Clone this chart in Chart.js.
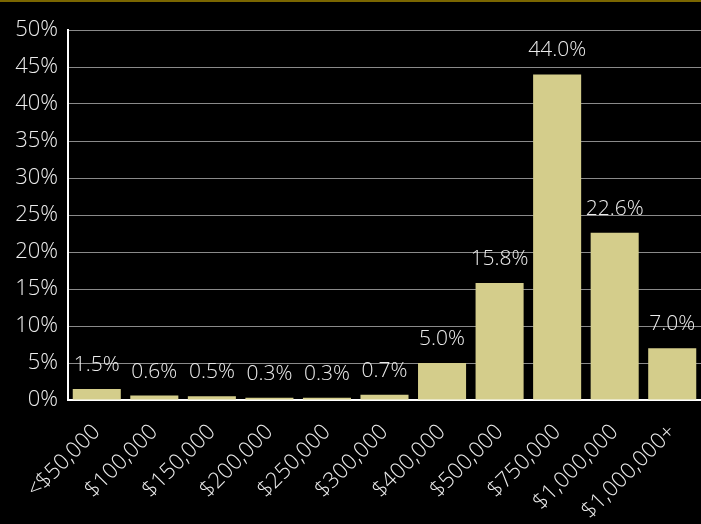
<!DOCTYPE html>
<html>
<head>
<meta charset="utf-8">
<script src="https://cdn.jsdelivr.net/npm/chart.js@4.4.0/dist/chart.umd.min.js"></script>
<style>
  html, body { margin: 0; padding: 0; background: #000; }
  #wrap { width: 701px; height: 522px; border-top: 2px solid #7a6600; }
</style>
</head>
<body>
<div id="wrap"><canvas id="priceChart" width="701" height="522"></canvas></div>

<script>
	var categories = ['<$50,000', '$100,000', '$150,000', '$200,000', '$250,000', '$300,000',
		'$400,000', '$500,000', '$750,000', '$1,000,000', '$1,000,000+']
	var shares = [1.5, 0.6, 0.5, 0.3, 0.3, 0.7, 5.0, 15.8, 44.0, 22.6, 7.0]
	var yTicks = [0, 5, 10, 15, 20, 25, 30, 35, 40, 45, 50]

	var txtColor = '#ececec'
	var fontName = '"Open Sans", "Noto Sans", sans-serif'

	// values above bars
	var barLabels = {
		id: 'barLabels',
		afterDatasetsDraw: function(chart) {
			var ctx = chart.ctx
			var meta = chart.getDatasetMeta(0)
			ctx.save()
			ctx.font = '300 21px ' + fontName
			ctx.fillStyle = txtColor
			ctx.textAlign = 'center'
			ctx.textBaseline = 'alphabetic'
			meta.data.forEach(function(bar, i) {
				ctx.fillText(shares[i].toFixed(1) + '%', bar.x, bar.y - 18)
			})
			ctx.restore()
		}
	}

	var chart = new Chart(document.getElementById('priceChart'), {
		type: 'bar',
		data: {
			labels: categories,
			datasets: [{
				data: shares,
				backgroundColor: '#d4cd8b',
				barPercentage: 0.835,
				categoryPercentage: 1.0
			}]
		},
		options: {
			responsive: false,
			animation: false,
			layout: { padding: { top: 28, right: 0, left: 0, bottom: 0 } },
			plugins: { legend: { display: false }, tooltip: { enabled: false } },
			scales: {
				x: {
					grid: { display: false, drawTicks: false },
					border: { color: '#ffffff', width: 2 },
					ticks: {
						color: txtColor,
						font: { family: fontName, size: 22, weight: '300' },
						maxRotation: 45, minRotation: 45,
						autoSkip: false,
						padding: 19
					},
					afterFit: function(s) {
						s.height = 124
						s.paddingLeft = 0
						s.paddingRight = 0
					}
				},
				y: {
					min: 0, max: 50,
					afterBuildTicks: function(s) { s.ticks = yTicks.map(function(v) { return { value: v } }) },
					grid: { color: '#8a8a8a', lineWidth: 1, drawTicks: false },
					border: { color: '#ffffff', width: 2 },
					ticks: {
						color: txtColor,
						font: { family: fontName, size: 22, weight: '300' },
						padding: 10,
						callback: function(v) { return v + '%' }
					},
					afterFit: function(s) { s.width = 68 }
				}
			}
		},
		plugins: [barLabels]
	});
</script>
</body>
</html>
